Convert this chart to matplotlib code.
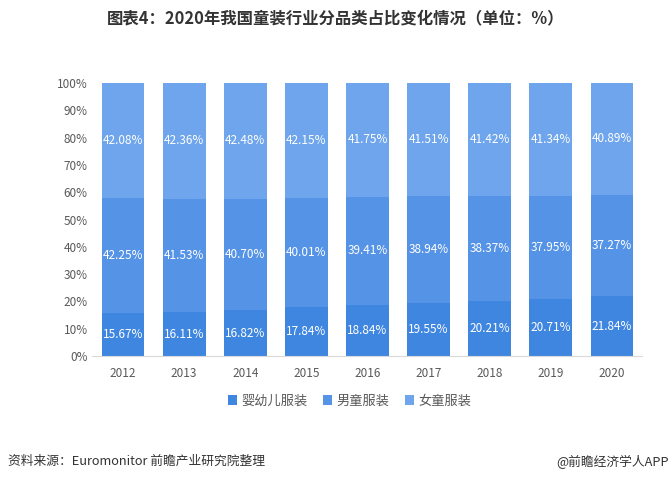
import numpy as np
import matplotlib
matplotlib.use("Agg")
import matplotlib.pyplot as plt
from matplotlib.ticker import PercentFormatter

plt.rcParams['font.family'] = ['Noto Sans CJK SC', 'DejaVu Sans']

years = ['2012', '2013', '2014', '2015', '2016', '2017', '2018', '2019', '2020']
baby = [15.67, 16.11, 16.82, 17.84, 18.84, 19.55, 20.21, 20.71, 21.84]
boys = [42.25, 41.53, 40.70, 40.01, 39.41, 38.94, 38.37, 37.95, 37.27]
girls = [42.08, 42.36, 42.48, 42.15, 41.75, 41.51, 41.42, 41.34, 40.89]
series_names = ['婴幼儿服装', '男童服装', '女童服装']
colors = ['#3f86e0', '#5593e6', '#6ea5ec']

fig = plt.figure(figsize=(6.72, 4.82), dpi=100)
ax = fig.add_axes([0.1376, 0.2614, 0.8185, 0.5664])

xs = np.arange(len(years))
bottom = np.zeros(len(years))
for vals, name, c in zip([baby, boys, girls], series_names, colors):
    vals = np.array(vals)
    ax.bar(xs, vals, 0.7, bottom=bottom, color=c, label=name)
    for x, v, b in zip(xs, vals, bottom):
        ax.text(x, b + v / 2, '%.2f%%' % v, ha='center', va='center',
                color='white', fontsize=8.5)
    bottom += vals

ax.set_xlim(-0.5, 8.5)
ax.set_ylim(0, 100)
ax.set_yticks(np.arange(0, 101, 10))
ax.yaxis.set_major_formatter(PercentFormatter(decimals=0))
ax.set_xticks(xs)
ax.set_xticklabels(years)
ax.tick_params(axis='both', length=0, labelsize=8.5, colors='#595959')
ax.tick_params(axis='x', pad=8)
for s in ['top', 'right', 'left']:
    ax.spines[s].set_visible(False)
ax.spines['bottom'].set_color('#d9d9d9')

fig.text(0.5, 0.962, '图表4：2020年我国童装行业分品类占比变化情况（单位：%）',
         ha='center', va='center', fontsize=11.8, fontweight='bold', color='#333333')

fig.legend(loc='center', bbox_to_anchor=(0.52, 0.168), ncol=3, frameon=False,
           fontsize=9.5, handlelength=0.7, handleheight=0.7, handletextpad=0.3,
           columnspacing=1.2, labelcolor='#595959')

fig.text(0.012, 0.042, '资料来源：Euromonitor 前瞻产业研究院整理', ha='left', va='center',
         fontsize=9.2, color='#333333')
fig.text(0.995, 0.042, '@前瞻经济学人APP', ha='right', va='center',
         fontsize=9.2, color='#333333')

fig.savefig('out.png', dpi=100)
